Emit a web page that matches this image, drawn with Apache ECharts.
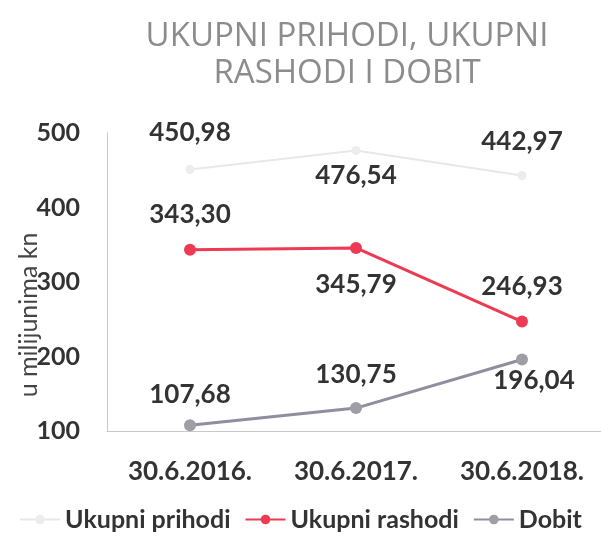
<!DOCTYPE html>
<html>
<head>
<meta charset="utf-8">
<script src="https://cdn.jsdelivr.net/npm/echarts@6/dist/echarts.min.js"></script>
<style>
  html, body { margin: 0; padding: 0; background: #fff; }
  #chart { width: 601px; height: 537px; }
</style>
</head>
<body>
<div id="chart"></div>
<script>
var categories = ["30.6.2016.", "30.6.2017.", "30.6.2018."];
var prihodi = [450.98, 476.54, 442.97];
var rashodi = [343.30, 345.79, 246.93];
var dobit = [107.68, 130.75, 196.04];
var yTicks = [100, 200, 300, 400, 500];

// label placement per point (style only)
var prihodiLbl = [["top", 19, [0, 0]], ["bottom", 8, [0, 0]], ["top", 16, [0, 0]]];
var rashodiLbl = [["top", 16, [0, 0]], ["bottom", 18, [0, 0]], ["top", 16, [0, 0]]];
var dobitLbl = [["top", 12, [0, 0]], ["top", 14, [0, 0]], ["bottom", 2, [12, 0]]];

function fmt(p) {
  return p.value.toFixed(2).replace(".", ",");
}

function build(values, lbl) {
  return values.map(function (v, i) {
    return {
      value: v,
      label: { position: lbl[i][0], distance: lbl[i][1], offset: lbl[i][2] }
    };
  });
}

var labelStyle = {
  show: true,
  formatter: fmt,
  fontFamily: "Lato",
  fontWeight: "bold",
  fontSize: 26,
  color: "#333"
};

var chart = echarts.init(document.getElementById("chart"));

chart.setOption({
  animation: false,
  title: {
    text: "UKUPNI PRIHODI, UKUPNI\nRASHODI I DOBIT",
    left: 342,
    top: 13,
    textAlign: "center",
    textStyle: {
      fontFamily: "Open Sans",
      fontWeight: "normal",
      fontSize: 33,
      lineHeight: 37,
      color: "#8c8c8c"
    }
  },
  legend: {
    bottom: 0,
    left: "center",
    itemWidth: 40,
    itemHeight: 12,
    itemGap: 14,
    textStyle: { fontFamily: "Lato", fontWeight: "bold", fontSize: 25, color: "#333" },
    data: ["Ukupni prihodi", "Ukupni rashodi", "Dobit"]
  },
  grid: { left: 107, top: 133, width: 498, bottom: 106, outerBoundsMode: "none" },
  xAxis: {
    type: "category",
    data: categories,
    axisLine: { lineStyle: { color: "#c8c8c8", width: 1 } },
    axisTick: { show: false },
    axisLabel: {
      margin: 28,
      fontFamily: "Lato",
      fontWeight: "bold",
      fontSize: 26,
      color: "#333"
    }
  },
  yAxis: {
    type: "value",
    min: yTicks[0],
    max: yTicks[yTicks.length - 1],
    interval: 100,
    name: "u milijunima kn",
    nameLocation: "middle",
    nameGap: 66,
    nameMoveOverlap: false,
    nameTextStyle: { fontFamily: "Lato", fontSize: 25, color: "#444", padding: [0, 66, 0, 0] },
    axisLine: { show: true, lineStyle: { color: "#c8c8c8", width: 1 } },
    axisTick: { show: false },
    splitLine: { show: false },
    axisLabel: {
      margin: 27,
      fontFamily: "Lato",
      fontWeight: "bold",
      fontSize: 25,
      color: "#333"
    }
  },
  series: [
    {
      name: "Ukupni prihodi",
      type: "line",
      data: build(prihodi, prihodiLbl),
      symbol: "circle",
      symbolSize: 9,
      lineStyle: { color: "#e8e8e8", width: 2 },
      itemStyle: { color: "#ececec" },
      label: labelStyle
    },
    {
      name: "Ukupni rashodi",
      type: "line",
      data: build(rashodi, rashodiLbl),
      symbol: "circle",
      symbolSize: 12,
      lineStyle: { color: "#ee3b54", width: 3 },
      itemStyle: { color: "#ee3b54" },
      label: labelStyle
    },
    {
      name: "Dobit",
      type: "line",
      data: build(dobit, dobitLbl),
      symbol: "circle",
      symbolSize: 12,
      lineStyle: { color: "#8f8d9e", width: 3 },
      itemStyle: { color: "#9e9ea4" },
      label: labelStyle
    }
  ]
});
</script>
</body>
</html>
